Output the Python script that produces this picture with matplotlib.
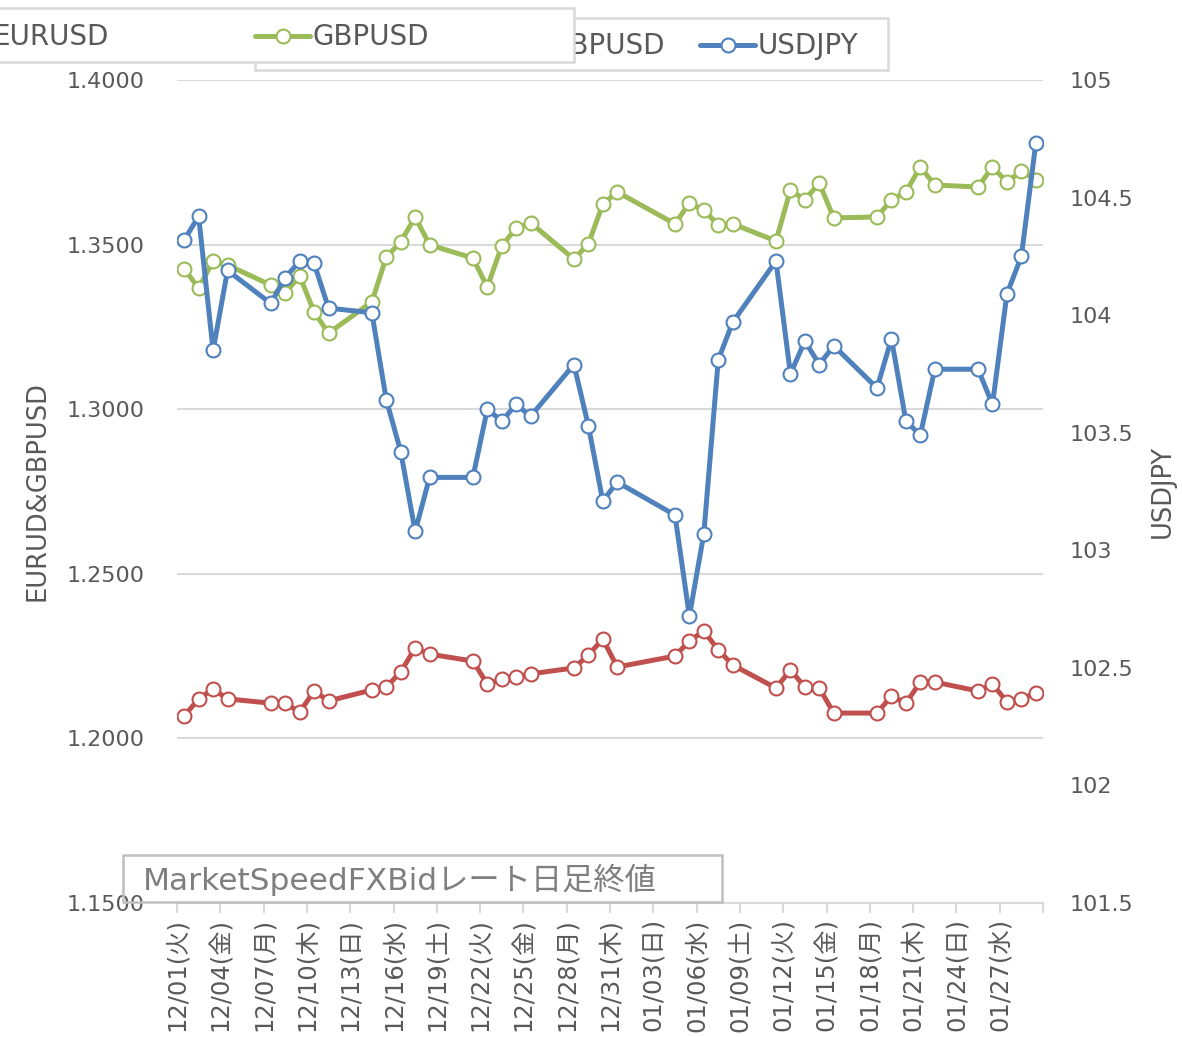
import matplotlib
matplotlib.use('Agg')
import matplotlib.pyplot as plt
from matplotlib.patches import Rectangle
from matplotlib.lines import Line2D
import numpy as np
import pandas as pd

# DejaVu for latin (wide, like Meiryo), Noto CJK for the kanji
plt.rcParams['font.family'] = ['DejaVu Sans', 'Noto Sans CJK JP']

W, H = 1182, 1037

# trading days (weekdays, 1/1 holiday dropped)
dates = pd.bdate_range('2020-12-01', '2021-01-29').drop(pd.Timestamp('2021-01-01'))

eurusd = [1.2068, 1.2120, 1.2150, 1.2120, 1.2107, 1.2107, 1.2080, 1.2144, 1.2114,
          1.2147, 1.2156, 1.2202, 1.2275, 1.2256, 1.2235, 1.2165, 1.2180, 1.2186,
          1.2196, 1.2214, 1.2253, 1.2302, 1.2217,
          1.2250, 1.2296, 1.2326, 1.2269, 1.2223, 1.2153, 1.2208, 1.2156, 1.2153,
          1.2077, 1.2077, 1.2129, 1.2107, 1.2171, 1.2171, 1.2144, 1.2165, 1.2111,
          1.2120, 1.2138]
gbpusd = [1.3426, 1.3368, 1.3450, 1.3438, 1.3377, 1.3353, 1.3405, 1.3295, 1.3231,
          1.3326, 1.3462, 1.3508, 1.3584, 1.3499, 1.3459, 1.3371, 1.3496, 1.3550,
          1.3566, 1.3456, 1.3502, 1.3623, 1.3660,
          1.3563, 1.3626, 1.3605, 1.3560, 1.3563, 1.3511, 1.3666, 1.3636, 1.3687,
          1.3581, 1.3584, 1.3636, 1.3660, 1.3736, 1.3681, 1.3675, 1.3736, 1.3690,
          1.3724, 1.3696]
usdjpy = [104.32, 104.42, 103.85, 104.19, 104.05, 104.16, 104.23, 104.22, 104.03,
          104.01, 103.64, 103.42, 103.08, 103.31, 103.31, 103.60, 103.55, 103.62,
          103.57, 103.79, 103.53, 103.21, 103.29,
          103.15, 102.72, 103.07, 103.81, 103.97, 104.23, 103.75, 103.89, 103.79,
          103.87, 103.69, 103.90, 103.55, 103.49, 103.77, 103.77, 103.62, 104.09,
          104.25, 104.73]

weekdays = ['月', '火', '水', '木', '金', '土', '日']

RED = '#C0504D'
GREEN = '#9BBB59'
BLUE = '#4F81BD'
GRID = '#D9D9D9'
TXT = '#595959'

start = dates[0]
x = np.array([(d - start).days for d in dates]) + 0.5
tick_days = pd.date_range('2020-12-01', '2021-01-27', freq='3D')
tick_pos = [(d - start).days for d in tick_days] + [60]
tick_lab = ['%s(%s)' % (d.strftime('%m/%d'), weekdays[d.weekday()]) for d in tick_days] + ['']

fig = plt.figure(figsize=(W / 100, H / 100), dpi=100)
ax = fig.add_axes([177 / W, 1 - 903 / H, (1043 - 177) / W, (903 - 80) / H])
ax2 = ax.twinx()

style = dict(lw=3.6, marker='o', markersize=10, markerfacecolor='white',
             markeredgewidth=1.5, solid_joinstyle='round')
ax.plot(x, eurusd, color=RED, **style)
ax.plot(x, gbpusd, color=GREEN, **style)
ax2.plot(x, usdjpy, color=BLUE, **style)

ax.set_xlim(0, 60)
ax.set_ylim(1.15, 1.40)
ax2.set_ylim(101.5, 105)
ax.set_yticks(np.arange(1.15, 1.4001, 0.05))
ax.set_yticklabels(['%.4f' % v for v in np.arange(1.15, 1.4001, 0.05)])
ax2.set_yticks(np.arange(101.5, 105.01, 0.5))
ax2.set_yticklabels(['%g' % v for v in np.arange(101.5, 105.01, 0.5)])
ax.set_xticks(tick_pos)
ax.set_xticklabels(tick_lab, rotation=90)

ax.yaxis.grid(True, color=GRID, lw=1.5)
ax.set_axisbelow(True)
for a in (ax, ax2):
    for s in ('top', 'left', 'right'):
        a.spines[s].set_visible(False)
    a.spines['bottom'].set_color(GRID)
    a.spines['bottom'].set_linewidth(1.5)
ax.tick_params(axis='y', length=0, pad=23, labelsize=16, labelcolor=TXT)
ax2.tick_params(axis='y', length=0, pad=19, labelsize=16, labelcolor=TXT)
ax.tick_params(axis='x', length=7, width=1.5, color=GRID, labelsize=17.5,
               labelcolor=TXT, pad=4)

ax.set_ylabel('EURUD&GBPUSD', fontsize=18.5, color=TXT, labelpad=12)
ax2.set_ylabel('USDJPY', fontsize=18.5, color=TXT, labelpad=12)


def px(xp, yp):
    return xp / W, 1 - yp / H


def box(x0, y0, x1, y1, z, fill=True, ec=GRID):
    fig.add_artist(Rectangle(px(x0, y1), (x1 - x0) / W, (y1 - y0) / H,
                             transform=fig.transFigure, facecolor='white' if fill else 'none',
                             edgecolor=ec, lw=1.8, zorder=z))


def entry(x0, yc, color, label, z):
    xa, ya = px(x0, yc)
    xb, _ = px(x0 + 55, yc)
    fig.add_artist(Line2D([xa, xb], [ya, ya], transform=fig.transFigure, color=color,
                          lw=3.6, zorder=z, solid_capstyle='round'))
    fig.add_artist(Line2D([(xa + xb) / 2], [ya], transform=fig.transFigure, color=color,
                          marker='o', markersize=10, markerfacecolor='white',
                          markeredgewidth=1.5, zorder=z))
    fig.text(*px(x0 + 58, yc + 1), label, fontsize=20, color=TXT, va='center', ha='left', zorder=z)


# second legend box (behind)
box(255, 18, 888, 70, 10)
entry(490, 45, GREEN, 'GBPUSD', 11)
entry(700, 45, BLUE, 'USDJPY', 11)
# first legend box (front), EURUSD entry runs off the left edge
box(-10, 8, 574, 62, 12)
entry(-66, 36, RED, 'EURUSD', 13)
entry(255, 36, GREEN, 'GBPUSD', 13)

# source note
box(123, 855, 722, 902, 14, fill=False, ec='#BFBFBF')
fig.text(*px(143, 880), 'MarketSpeedFXBidレート日足終値', fontsize=22.5, color='#7F7F7F',
         va='center', ha='left', zorder=15)

fig.savefig('out.png', dpi=100)
